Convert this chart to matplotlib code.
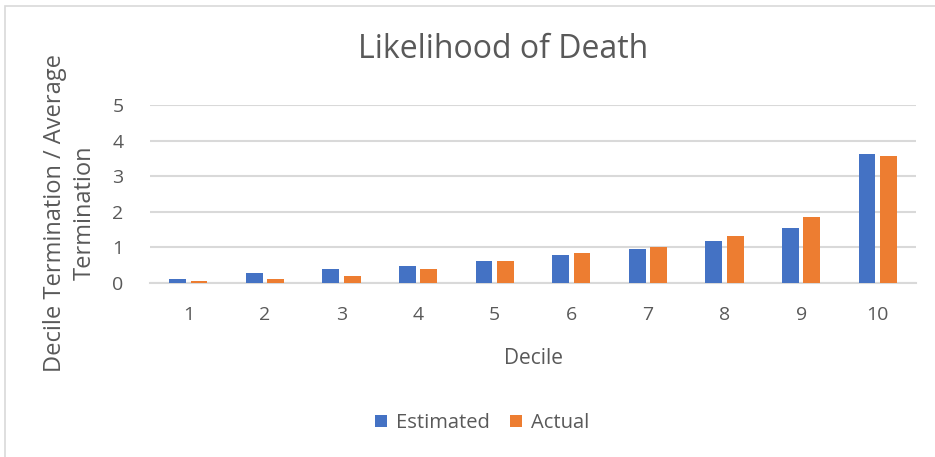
import matplotlib
matplotlib.use("Agg")
import matplotlib.pyplot as plt
import numpy as np
from matplotlib.patches import Rectangle

deciles = ["1", "2", "3", "4", "5", "6", "7", "8", "9", "10"]
estimated = [0.10, 0.27, 0.38, 0.47, 0.61, 0.78, 0.95, 1.17, 1.54, 3.62]
actual = [0.05, 0.10, 0.19, 0.39, 0.61, 0.83, 1.01, 1.32, 1.84, 3.56]
y_ticks = [0, 1, 2, 3, 4, 5]

plt.rcParams["font.family"] = ["Open Sans", "DejaVu Sans"]
text_color = "#595959"
grid_color = "#d9d9d9"

W, H = 935, 457
fig = plt.figure(figsize=(W / 100, H / 100), dpi=100)
fig.patch.set_facecolor("white")

# outer chart frame
fig.patches.append(Rectangle((4.5 / W, -0.2), 1.2, 1.2 - 6 / H, transform=fig.transFigure,
                             fill=False, edgecolor=grid_color, linewidth=1.2))

ax = fig.add_axes([150 / W, (H - 282.7) / H, (916 - 150) / W, (282.7 - 105) / H])

x = np.arange(len(deciles))
bw = 0.22
off = 0.14
ax.bar(x - off, estimated, bw, color="#4472C4", label="Estimated", zorder=3)
ax.bar(x + off, actual, bw, color="#ED7D31", label="Actual", zorder=3)

ax.set_xlim(-0.5, len(deciles) - 0.5)
ax.set_ylim(0, 5)
ax.set_yticks(y_ticks)
ax.set_xticks(x)
ax.set_xticklabels(deciles)
ax.grid(axis="y", color=grid_color, linewidth=1.5, zorder=0)
for s in ["top", "right", "left"]:
    ax.spines[s].set_visible(False)
ax.spines["bottom"].set_color(grid_color)
ax.spines["bottom"].set_linewidth(1.5)
ax.tick_params(axis="both", length=0, labelsize=14, colors=text_color)
ax.tick_params(axis="x", pad=17)
ax.tick_params(axis="y", pad=19)

ax.set_xlabel("Decile", fontsize=15, color=text_color, labelpad=17)

fig.text(70 / W, 1 - 212.5 / H, "Decile Termination / Average\nTermination",
         rotation=90, ha="center", va="center", multialignment="center",
         fontsize=17, color=text_color, linespacing=1.3)

fig.text(503 / W, 1 - 49 / H, "Likelihood of Death", ha="center", va="center",
         fontsize=23, color=text_color)

leg = fig.legend(loc="center", bbox_to_anchor=(482 / W, 1 - 423 / H), ncol=2,
                 frameon=False, fontsize=14.5, handlelength=0.6, handleheight=0.6,
                 columnspacing=1.0, handletextpad=0.45)
for t in leg.get_texts():
    t.set_color(text_color)

fig.savefig("out.png", dpi=100, facecolor="white")
